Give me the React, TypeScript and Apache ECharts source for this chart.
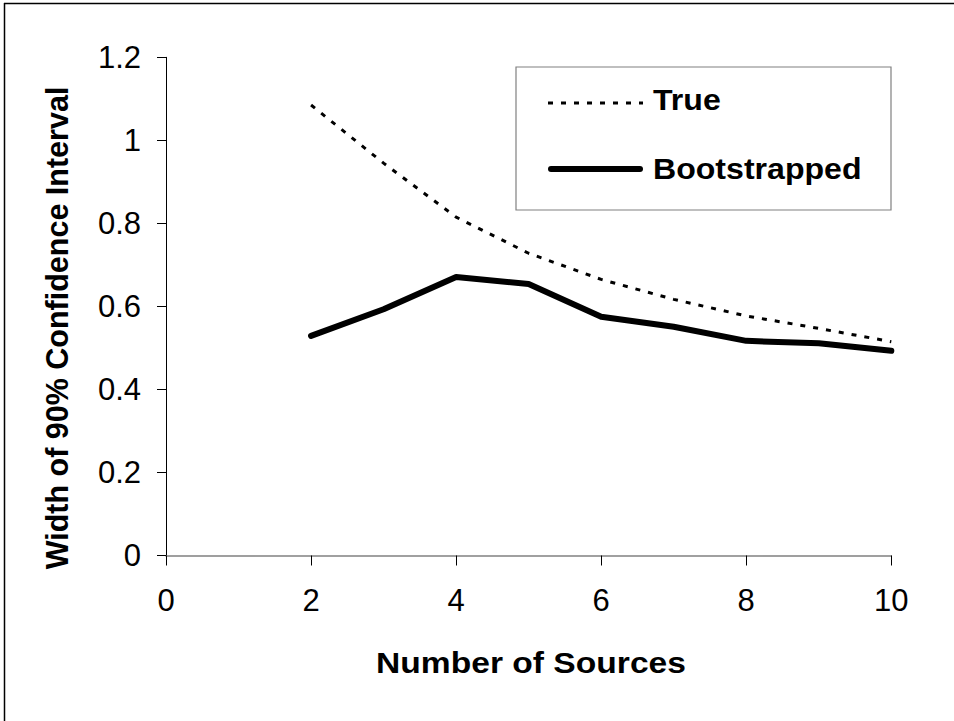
import React, { useEffect, useRef } from "react";
import * as echarts from "echarts";

const xValues = [2, 3, 4, 5, 6, 7, 8, 9, 10];
const trueValues = [1.085, 0.945, 0.815, 0.728, 0.665, 0.617, 0.577, 0.547, 0.515];
const bootValues = [0.529, 0.593, 0.671, 0.654, 0.575, 0.551, 0.517, 0.511, 0.493];
const seriesNames = ["True", "Bootstrapped"];
const xTitle = "Number of Sources";
const yTitle = "Width of 90% Confidence Interval";

const FONT = "'Liberation Sans', Arial, Helvetica, sans-serif";
const TRUE_STYLE = { color: "#000", width: 3, type: [5, 8] as number[] };
const BOOT_STYLE = { color: "#000", width: 6 };

export default function App() {
  const ref = useRef<HTMLDivElement>(null);
  useEffect(() => {
    if (!ref.current) return;
    const chart = echarts.init(ref.current, undefined, { renderer: "svg" });
    const toPairs = (vals: number[]) => xValues.map((x, i) => [x, vals[i]]);
    chart.setOption({
      animation: false,
      backgroundColor: "#ffffff",
      textStyle: { fontFamily: FONT },
      grid: { left: 166, top: 57.3, right: 62.7, bottom: 165.5 },
      xAxis: {
        type: "value",
        min: 0,
        max: 10,
        interval: 2,
        axisLine: { show: true, lineStyle: { color: "#808080", width: 1.5 } },
        axisTick: { show: true, length: 10, lineStyle: { color: "#000", width: 1 } },
        axisLabel: { fontSize: 31, color: "#000", margin: 29, fontFamily: FONT },
        splitLine: { show: false },
      },
      yAxis: {
        type: "value",
        min: 0,
        max: 1.2,
        interval: 0.2,
        axisLine: { show: true, lineStyle: { color: "#000", width: 1 } },
        axisTick: { show: true, length: 9, lineStyle: { color: "#000", width: 1 } },
        axisLabel: { fontSize: 31, color: "#000", margin: 25, fontFamily: FONT },
        splitLine: { show: false },
      },
      series: [
        {
          name: seriesNames[0],
          type: "line",
          data: toPairs(trueValues),
          symbol: "none",
          lineStyle: TRUE_STYLE,
          itemStyle: { color: "#000" },
        },
        {
          name: seriesNames[1],
          type: "line",
          data: toPairs(bootValues),
          symbol: "none",
          lineStyle: { ...BOOT_STYLE, cap: "round", join: "round" },
          itemStyle: { color: "#000" },
        },
      ],
      graphic: [
        {
          type: "line",
          shape: { x1: 4, y1: 3.5, x2: 954, y2: 3.5 },
          style: { stroke: "#000", lineWidth: 1.5 },
        },
        {
          type: "line",
          shape: { x1: 4.5, y1: 3, x2: 4.5, y2: 721 },
          style: { stroke: "#000", lineWidth: 1.5 },
        },
        {
          type: "text",
          x: 531,
          y: 663,
          scaleX: 1.12,
          style: {
            text: xTitle,
            font: `bold 30px ${FONT}`,
            fill: "#000",
            align: "center",
            verticalAlign: "middle",
          },
        },
        {
          type: "text",
          x: 57,
          y: 328,
          rotation: Math.PI / 2,
          style: {
            text: yTitle,
            font: `bold 30.5px ${FONT}`,
            fill: "#000",
            align: "center",
            verticalAlign: "middle",
          },
        },
        // legend
        {
          type: "rect",
          shape: { x: 516, y: 67, width: 375, height: 143 },
          style: { fill: "#fff", stroke: "#808080", lineWidth: 1.2 },
          z: 10,
        },
        {
          type: "line",
          shape: { x1: 548, y1: 103, x2: 643, y2: 103 },
          style: { stroke: TRUE_STYLE.color, lineWidth: TRUE_STYLE.width, lineDash: TRUE_STYLE.type },
          z: 11,
        },
        {
          type: "line",
          shape: { x1: 551, y1: 169, x2: 640, y2: 169 },
          style: { stroke: BOOT_STYLE.color, lineWidth: BOOT_STYLE.width, lineCap: "round" },
          z: 11,
        },
        {
          type: "text",
          x: 653,
          y: 100,
          scaleX: 1.07,
          z: 11,
          style: {
            text: seriesNames[0],
            font: `bold 30px ${FONT}`,
            fill: "#000",
            align: "left",
            verticalAlign: "middle",
          },
        },
        {
          type: "text",
          x: 653,
          y: 169,
          scaleX: 1.07,
          z: 11,
          style: {
            text: seriesNames[1],
            font: `bold 30px ${FONT}`,
            fill: "#000",
            align: "left",
            verticalAlign: "middle",
          },
        },
      ],
    });
    return () => chart.dispose();
  }, []);
  return (
    <div
      ref={ref}
      style={{ position: "fixed", left: 0, top: 0, width: 954, height: 721 }}
    />
  );
}
